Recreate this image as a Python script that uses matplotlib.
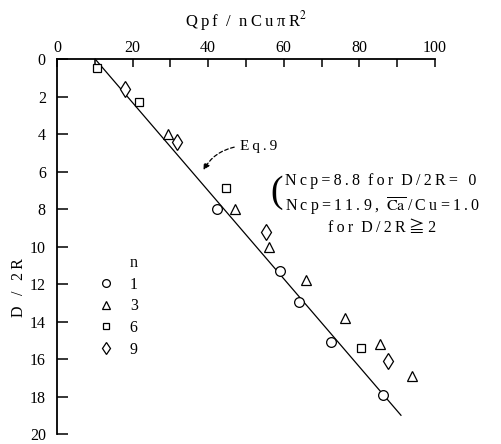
import matplotlib.pyplot as plt
import numpy as np

plt.rcParams['font.family'] = ['Liberation Serif', 'DejaVu Serif', 'Noto Sans CJK JP']
plt.rcParams['mathtext.fontset'] = 'stix'

# measured points, x = Qpf/nCu pi R^2, y = D/2R
n1_x = [42.4, 58.9, 64.0, 72.4, 86.2]
n1_y = [8.0, 11.3, 12.95, 15.1, 17.9]
n3_x = [29.5, 47.2, 56.0, 65.8, 76.1, 85.4, 93.9]
n3_y = [4.0, 8.0, 10.0, 11.8, 13.8, 15.2, 16.9]
n6_x = [10.6, 21.8, 44.8, 80.4]
n6_y = [0.5, 2.3, 6.9, 15.4]
n9_x = [18.0, 31.8, 55.2, 87.5]
n9_y = [1.6, 4.4, 9.2, 16.1]

# Eq.9 line
eq9_d = [0, 19]
eq9_q = [10.1, 91.0]


def spaced(s):
    # typewriter-like letter spacing
    return '\u2009'.join(s)


fig = plt.figure(figsize=(5.02, 4.44), dpi=100)
ax = fig.add_axes([0.1135, 0.0225, 0.753, 0.8445])

ax.plot(eq9_q, eq9_d, color='black', lw=0.9, clip_on=False)

kw = dict(linestyle='none', markerfacecolor='white', markeredgecolor='black',
          markeredgewidth=0.9, clip_on=False)
ax.plot(n1_x, n1_y, marker='o', markersize=7, label='1', **kw)
ax.plot(n3_x, n3_y, marker='^', markersize=7.5, label='3', **kw)
ax.plot(n6_x, n6_y, marker='s', markersize=6, label='6', **kw)
ax.plot(n9_x, n9_y, marker='d', markersize=8, label='9', **kw)

ax.set_xlim(0, 100)
ax.set_ylim(20, 0)
ax.xaxis.tick_top()
ax.xaxis.set_label_position('top')
ax.set_xticks(np.arange(0, 101, 20))
ax.set_xticks(np.arange(0, 101, 10), minor=True)
ax.set_yticks(np.arange(0, 21, 2))
ax.tick_params(axis='x', which='both', direction='in', length=6, width=1.1,
               labelsize=11.5, pad=2)
ax.tick_params(axis='y', direction='in', length=8, width=1.1, labelsize=11.5, pad=8)
for s in ['right', 'bottom']:
    ax.spines[s].set_visible(False)
for s in ['left', 'top']:
    ax.spines[s].set_linewidth(1.3)

ax.set_xlabel(spaced('Qpf') + '  /  ' + spaced('nCuπ') + '\u2009R$^{2}$',
              fontsize=12, labelpad=10)
ax.set_ylabel(spaced('D / 2R'), fontsize=11.5)
ax.yaxis.set_label_coords(-0.08, 0.39)

leg = ax.legend(title='n', loc='upper left', bbox_to_anchor=(0.07, 0.515),
                frameon=False, fontsize=11.5, title_fontsize=11.5,
                handlelength=1.0, handletextpad=1.0, labelspacing=0.35,
                markerscale=0.8)
leg._legend_box.align = 'right'

# annotation for Eq.9
ax.annotate('', xy=(38.4, 6.05), xytext=(47.6, 4.67),
            arrowprops=dict(arrowstyle='-|>', linestyle=(0, (3, 2)), lw=0.9,
                            color='black', connectionstyle='arc3,rad=0.25',
                            mutation_scale=9))
ax.text(48.5, 4.65, spaced('Eq.9'), fontsize=11, va='center', ha='left')

ax.text(59.7, 7.15, '(', fontsize=27, va='center', ha='right')
ax.text(60.4, 6.5, spaced('Ncp=8.8') + '  ' + spaced('for') + '  ' + spaced('D/2R= 0'),
        fontsize=11.5, va='center', ha='left')
ax.text(60.4, 7.85, spaced('Ncp=11.9,') + '  ' + r'$\overline{\mathrm{Ca}}$'
        + '\u2009' + spaced('/Cu=1.0'), fontsize=11.5, va='center', ha='left')
ax.text(71.7, 9.0, spaced('for') + '  ' + spaced('D/2R') + '\u2009≧\u20092',
        fontsize=11.5, va='center', ha='left')

fig.savefig('out.png', dpi=100)
